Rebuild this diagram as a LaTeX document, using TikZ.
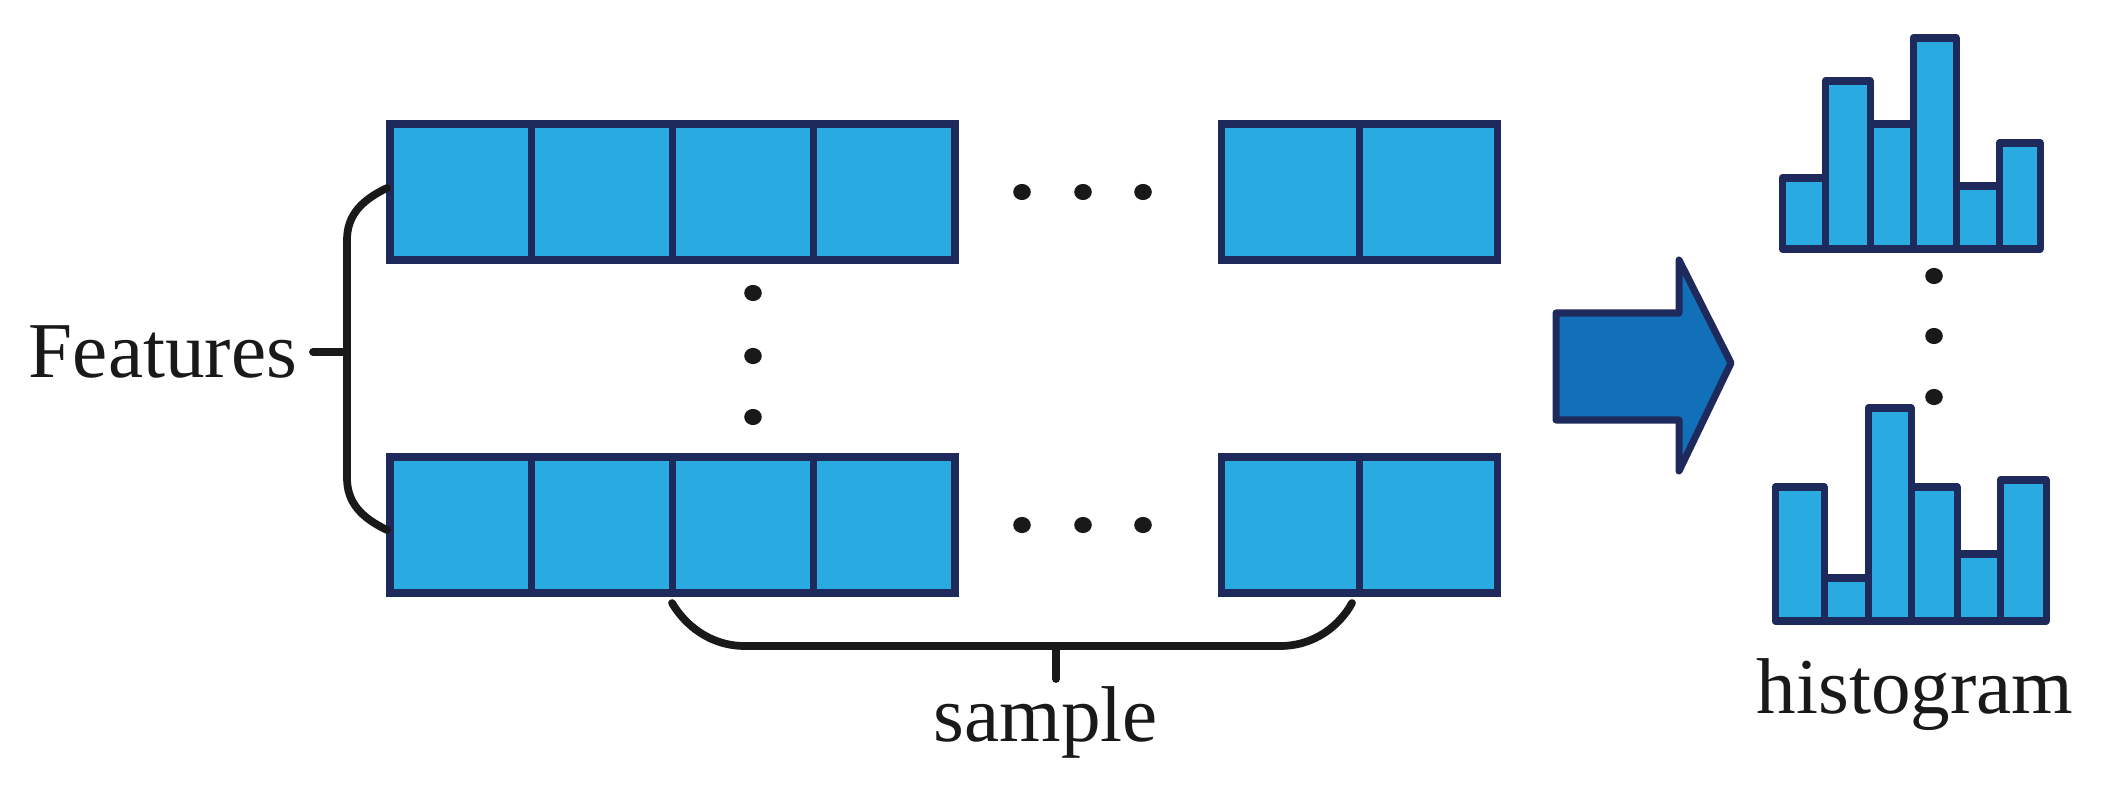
\documentclass[tikz,border=0pt]{standalone}
\usepackage{fontspec}
\usetikzlibrary{shapes.geometric}
\setmainfont{Liberation Serif}
\begin{document}
\begin{tikzpicture}[x=0.01cm,y=-0.01cm,
  cell/.style={fill=cellc,draw=outc,line width=2pt},
  brace/.style={draw=black!90,line width=2.2pt,line cap=round},
  dot/.style={ellipse,fill=black!90,inner sep=0pt,minimum width=5pt,minimum height=4.6pt},
  lbl/.style={font=\fontsize{22.5}{27}\selectfont,text=black!90,inner sep=0pt}]
\definecolor{cellc}{HTML}{29ABE2}
\definecolor{outc}{HTML}{1F2A5C}
\definecolor{arrc}{HTML}{1170B8}
\useasboundingbox (0,0) rectangle (2109,794);
% rows
\foreach \r/\ya/\yb in {t/124/260,b/457/593}{
  \foreach \i in {0,...,3}{
    \path[cell] ({390+\i*141.25},\ya) rectangle ({390+(\i+1)*141.25},\yb);}
  \foreach \i in {0,1}{
    \path[cell] ({1221+\i*138},\ya) rectangle ({1221+(\i+1)*138},\yb);}
}
\node[dot] (ht1) at (1022,192) {};\node[dot] (ht2) at (1083,192) {};\node[dot] (ht3) at (1143,192) {};
\node[dot] (hb1) at (1022,525) {};\node[dot] (hb2) at (1083,525) {};\node[dot] (hb3) at (1143,525) {};
\node[dot] (v1) at (753,293) {};\node[dot] (v2) at (753,356) {};\node[dot] (v3) at (753,417) {};
% features brace
\coordinate (fa) at (387,188);\coordinate (fb) at (387,530);
\draw[brace] (fa) .. controls (362,200) and (347,215) .. (347,240) -- (347,478) .. controls (347,503) and (362,518) .. (fb);
\node[lbl] (feat) at (163,352) {Features};
\coordinate (ft) at (313,352);
\draw[brace] (ft) -- (347,352);
% sample brace
\coordinate (sa) at (672,603);\coordinate (sb) at (1352,603);
\draw[brace] (sa) .. controls (685,625) and (710,646) .. (745,646) -- (1280,646) .. controls (1315,646) and (1340,625) .. (sb);
\draw[brace] (1056,646) -- (1056,679);
\node[lbl] (samp) at (1046,722) {sample};
% arrow
\path[fill=arrc,draw=outc,line width=2pt,line join=round] (1556,313) -- (1679,313) -- (1679,260) -- (1731,363) -- (1679,471) -- (1679,420) -- (1556,420) -- cycle;
% histograms
\foreach \xa/\xb/\t in {1782/1825/178,1825/1870/81,1870/1913/124,1913/1956/38,1956/1999/186,1999/2040/143}{
  \path[cell,line join=round] (\xa,249) rectangle (\xb,\t);}
\foreach \xa/\xb/\t in {1775/1824/487,1824/1868/578,1868/1911/408,1911/1957/487,1957/2000/554,2000/2046/480}{
  \path[cell,line join=round] (\xa,621) rectangle (\xb,\t);}
\node[dot] (d1) at (1934,276) {};\node[dot] (d2) at (1934,336) {};\node[dot] (d3) at (1934,397) {};
\node[lbl] (hist) at (1915,695) {histogram};
\end{tikzpicture}
\end{document}
